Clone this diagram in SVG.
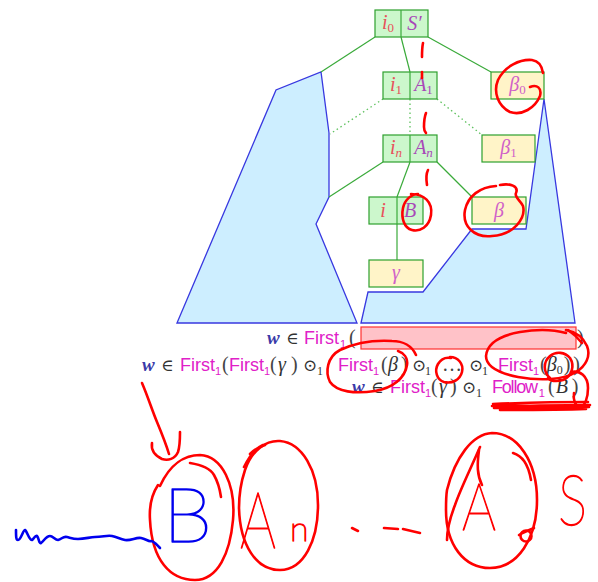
<svg xmlns="http://www.w3.org/2000/svg" width="598" height="582" viewBox="0 0 598 582">
<style>
.poly{fill:#cdeeff;stroke:#3838e0;stroke-width:1.3;stroke-linejoin:miter}
.gbox{fill:#ccf7cc;stroke:#2ea02e;stroke-width:1.2}
.ybox{fill:#fff4c8;stroke:#2ea02e;stroke-width:1.2}
.edge{stroke:#3aaa3a;stroke-width:1.2;fill:none}
.dot{stroke:#5cc05c;stroke-width:1.3;stroke-dasharray:1.5 3;fill:none}
.lab{font-family:"Liberation Serif",serif;font-style:italic;font-size:20px;text-anchor:middle}
.ired{fill:#e8505a}
.pur{fill:#a848b8}
.bet{fill:#d060c8}
.m{font-family:"Liberation Sans",sans-serif;font-size:18px;fill:#e020c8}
.ms{font-family:"Liberation Sans",sans-serif;font-size:11px;fill:#e020c8}
.w{font-family:"Liberation Serif",serif;font-style:italic;font-weight:bold;font-size:19px;fill:#3a3aa8}
.sy{font-family:"DejaVu Serif",serif;font-size:17px;fill:#333}
.p{font-family:"Liberation Serif",serif;font-size:20px;fill:#444;font-style:normal}
.gr{font-family:"Liberation Serif",serif;font-style:italic;font-size:20px;fill:#333}
.sub{font-family:"Liberation Serif",serif;font-size:12px;fill:#333;font-style:normal}
.ink{fill:none;stroke:#ff0000;stroke-width:2.6;stroke-linecap:round;stroke-linejoin:round}
.binka{fill:none;stroke:#0000ee;stroke-width:2.6;stroke-linecap:round;stroke-linejoin:round}
.hand{font-family:Lato,Roboto,"DejaVu Sans",sans-serif;font-weight:100;fill:#ff0000;stroke:#ff0000;stroke-width:1.4;stroke-linejoin:round}
.handb{font-family:Lato,Roboto,"DejaVu Sans",sans-serif;font-weight:100;fill:#0000ee;stroke:#0000ee;stroke-width:1.4;stroke-linejoin:round}
</style>

<g id="left-region"><polygon class="poly" points="177,323 276,90 321,72 329,133 329,197 316,224 357,323"/></g>
<g id="right-region"><polygon class="poly" points="361,323 368,292 423,292 472,229 526,229 544,99 575,323"/></g>

<g id="connectors">
<line class="edge" x1="375" y1="37" x2="321" y2="72"/>
<line class="edge" x1="401" y1="37" x2="410" y2="72"/>
<line class="edge" x1="428" y1="37" x2="491" y2="72"/>
<line class="dot" x1="383" y1="99" x2="330" y2="134"/>
<line class="dot" x1="410" y1="99" x2="410" y2="135"/>
<line class="dot" x1="437" y1="99" x2="482" y2="135"/>
<line class="edge" x1="383" y1="162" x2="329" y2="197"/>
<line class="edge" x1="410" y1="162" x2="397" y2="197"/>
<line class="edge" x1="437" y1="162" x2="472" y2="197"/>
<line class="edge" x1="397" y1="224" x2="397" y2="260"/>
</g>

<g id="n-i0-S"><rect class="gbox" x="375" y="10" width="53" height="27"/><line class="edge" x1="401" y1="10" x2="401" y2="37"/>
<text class="lab ired" x="388" y="29">i<tspan font-size="13" font-style="normal" dy="3">0</tspan></text>
<text class="lab pur" x="414.5" y="30">S′</text></g>
<g id="n-i1-A1"><rect class="gbox" x="383" y="72" width="54" height="27"/><line class="edge" x1="410" y1="72" x2="410" y2="99"/>
<text class="lab ired" x="396" y="91">i<tspan font-size="13" font-style="normal" dy="3">1</tspan></text>
<text class="lab pur" x="423.5" y="91">A<tspan font-size="13" font-style="normal" dy="3">1</tspan></text></g>
<g id="n-beta0"><rect class="ybox" x="491" y="72" width="53" height="27"/>
<text class="lab bet" x="517.5" y="91">β<tspan font-size="13" font-style="normal" dy="3">0</tspan></text></g>
<g id="n-in-An"><rect class="gbox" x="383" y="135" width="54" height="27"/><line class="edge" x1="410" y1="135" x2="410" y2="162"/>
<text class="lab ired" x="396" y="154">i<tspan font-size="13" dy="3">n</tspan></text>
<text class="lab pur" x="423.5" y="154">A<tspan font-size="13" dy="3">n</tspan></text></g>
<g id="n-beta1"><rect class="ybox" x="482" y="135" width="53" height="27"/>
<text class="lab bet" x="508.5" y="154">β<tspan font-size="13" font-style="normal" dy="3">1</tspan></text></g>
<g id="n-i-B"><rect class="gbox" x="369" y="197" width="54" height="27"/><line class="edge" x1="397" y1="197" x2="397" y2="224"/>
<text class="lab ired" x="383" y="217">i</text>
<text class="lab pur" x="410" y="217">B</text></g>
<g id="n-beta"><rect class="ybox" x="472" y="197" width="54" height="27"/>
<text class="lab bet" x="499" y="217">β</text></g>
<g id="n-gamma"><rect class="ybox" x="369" y="260" width="54" height="27"/>
<text class="lab bet" x="396" y="279">γ</text></g>

<g id="redbox"><rect x="361" y="327" width="215" height="22" fill="#ffc2c8" stroke="#ff3030" stroke-width="1.2"/></g>

<g id="line1">
<text class="w" x="267" y="344">w</text><text class="sy" x="286" y="344">∈</text>
<text class="m" x="304" y="344" textLength="35" lengthAdjust="spacingAndGlyphs">First</text><text class="ms" x="340" y="348">1</text>
<text class="p" x="349" y="344">(</text><text class="p" x="577" y="344">)</text>
</g>
<g id="line2">
<text class="w" x="142" y="371">w</text><text class="sy" x="161" y="371">∈</text>
<text class="m" x="180" y="371" textLength="35" lengthAdjust="spacingAndGlyphs">First</text><text class="ms" x="215" y="375">1</text>
<text class="p" x="222" y="371">(</text>
<text class="m" x="229" y="371" textLength="35" lengthAdjust="spacingAndGlyphs">First</text><text class="ms" x="264" y="375">1</text>
<text class="p" x="270" y="371">(</text><text class="gr" x="278" y="371">γ</text><text class="p" x="291" y="371">)</text>
<text class="sy" x="303" y="371">⊙</text><text class="sub" x="317" y="375">1</text>
<text class="m" x="338" y="371" textLength="35" lengthAdjust="spacingAndGlyphs">First</text><text class="ms" x="373" y="375">1</text>
<text class="p" x="381" y="371">(</text><text class="gr" x="388" y="371">β</text><text class="p" x="401" y="371">)</text>
<text class="sy" x="412" y="371">⊙</text><text class="sub" x="425" y="375">1</text>
<text class="p" x="442" y="371">…</text>
<text class="sy" x="469" y="371">⊙</text><text class="sub" x="482" y="375">1</text>
<text class="m" x="498" y="371" textLength="35" lengthAdjust="spacingAndGlyphs">First</text><text class="ms" x="533" y="375">1</text>
<text class="p" x="540" y="371">(<tspan class="gr">β</tspan><tspan class="sub" dy="3">0</tspan><tspan dy="-3" dx="1">)</tspan><tspan dx="3">)</tspan></text>
</g>
<g id="line3">
<text class="w" x="352" y="393">w</text><text class="sy" x="371" y="393">∈</text>
<text class="m" x="390" y="393" textLength="35" lengthAdjust="spacingAndGlyphs">First</text><text class="ms" x="425" y="397">1</text>
<text class="p" x="431" y="393">(</text><text class="gr" x="439" y="393">γ</text><text class="p" x="450" y="393">)</text>
<text class="sy" x="462" y="393">⊙</text><text class="sub" x="476" y="397">1</text>
<text class="m" x="492" y="393" letter-spacing="-1.2">Follow<tspan class="ms" dy="4" letter-spacing="0" dx="2">1</tspan><tspan class="p" dy="-4" dx="3" letter-spacing="0" font-size="19">(</tspan><tspan class="gr" dx="1" letter-spacing="0" font-size="19">B</tspan><tspan class="p" dx="4" letter-spacing="0" font-size="19">)</tspan></text>
</g>

<g id="annotations">
<path class="ink" d="M423,43 C422,48 422,52 422,57"/>
<path class="ink" d="M422,72 L422,78"/>
<path class="ink" d="M426,113 C424,118 424,123 424,127 C424,130 425,132 426,133"/>
<path class="ink" d="M428,170 C426,174 426,179 427,185"/>
<path class="ink" d="M543,73 C542,66 539,61 532,60 C520,59 505,66 498,80 C493,92 498,106 510,112 C522,116 535,108 540,96 C542,88 537,84 530,87"/>
<path class="ink" d="M411,194 C424,194 433,202 431,215 C429,227 420,232 412,230 C404,228 401,218 403,208 C405,199 412,194 418,194"/>
<path class="ink" d="M500,185 C510,183 519,186 516,193 C514,197 520,200 523,206 C526,218 514,235 492,236 C474,238 462,226 465,210 C468,196 480,187 496,186"/>
<path class="ink" d="M416,355 C412,346 403,341 392,341 C375,340 355,343 340,350 C327,357 325,372 330,382 C337,392 355,394 375,391 C393,388 405,378 407,365 C408,358 404,353 398,351"/>
<path class="ink" d="M450,357 C458,357 464,364 462,372 C460,380 452,384 444,382 C437,380 434,371 438,364 C441,359 446,357 451,358"/>
<path class="ink" d="M566,330 C576,332 583,337 587,346 C591,356 586,366 576,372 C564,380 540,381 518,377 C498,373 486,366 486,356 C487,345 498,336 520,332 C538,329 555,330 566,333"/>
<path class="ink" d="M568,330 C574,334 578,338 582,343"/>
<path class="ink" d="M550,378 C543,372 543,362 550,356 C556,351 565,352 570,358 C575,366 572,376 563,380 C556,382 550,381 548,378"/>
<path class="ink" d="M571,372 C580,370 588,376 588,388 C588,398 585,406 580,407 C575,406 573,400 574,393"/>
<path class="ink" d="M493,404 C520,403 550,402 588,402 M492,406 C525,406 555,405 590,405 M494,408 C525,408 560,408 589,407 M500,410 C530,410 560,410 586,409"/>
<path class="ink" d="M142,383 C148,397 152,410 157,422 C162,434 166,444 169,454"/>
<path class="ink" d="M152,443 C151,449 154,455 162,459 C168,461 175,459 178,452 C180,446 180,438 180,432"/>
<path class="ink" d="M160,486 C170,464 185,455 200,455 C222,456 236,485 233,520 C230,553 218,580 195,580 C170,580 152,560 150,520 C149,505 152,494 158,485"/>
<path class="ink" d="M190,463 C202,465 210,468 214,475 C218,482 220,490 221,497"/>
<path class="ink" d="M245,470 C252,450 266,440 280,441 C302,443 318,470 318,505 C318,540 304,570 280,570 C256,570 240,545 239,508 C239,495 241,482 245,470"/>
<path class="ink" d="M244,467 C250,455 256,448 263,445 M250,454 C254,450 258,447 265,445"/>
<path class="ink" d="M447,490 C455,458 472,434 492,433 C518,433 537,462 537,500 C537,538 518,568 490,568 C464,568 446,545 446,510 C446,503 446,496 447,490"/>
<path class="ink" d="M480,447 C470,470 460,490 455,505 C450,518 447,530 447,540"/>
<path class="ink" d="M513,453 C522,456 528,463 531,480"/>
<path class="ink" d="M479,450 C477,465 477,475 482,485"/>
<path class="ink" d="M352,528 L358,531 M384,528 L398,529 M403,529 L420,533"/>
<circle class="ink" cx="526" cy="536" r="5.5" stroke-width="2.2"/>
<path class="ink" d="M519,535 C524,532 529,530 534,528" stroke-width="2"/>
<path class="binka" d="M16,530 C16,536 16,540 18,540 C21,540 23,530 25,530 C27,531 29,540 32,540 C34,539 35,535 37,536 C39,538 39,544 41,543 C44,541 46,536 50,536 C53,536 55,540 58,540 C62,539 63,536 67,537 C71,538 73,539 78,539 C85,539 90,537 95,537 C103,537 107,535 112,536 C117,537 120,539 125,540 C131,541 136,537 141,538 C146,539 149,542 151,541 C154,541 157,545 160,548"/>
<text class="handb" x="163" y="542" font-size="76" textLength="49" lengthAdjust="spacingAndGlyphs">B</text>
<text class="hand" x="240" y="548" font-size="78" textLength="36" lengthAdjust="spacingAndGlyphs">A</text>
<text class="hand" x="290" y="541" font-size="34">n</text>
<text class="hand" x="462" y="530" font-size="66" textLength="34" lengthAdjust="spacingAndGlyphs">A</text>
<text class="hand" x="558" y="525" font-size="70" textLength="29" lengthAdjust="spacingAndGlyphs">S</text>
</g>
</svg>
